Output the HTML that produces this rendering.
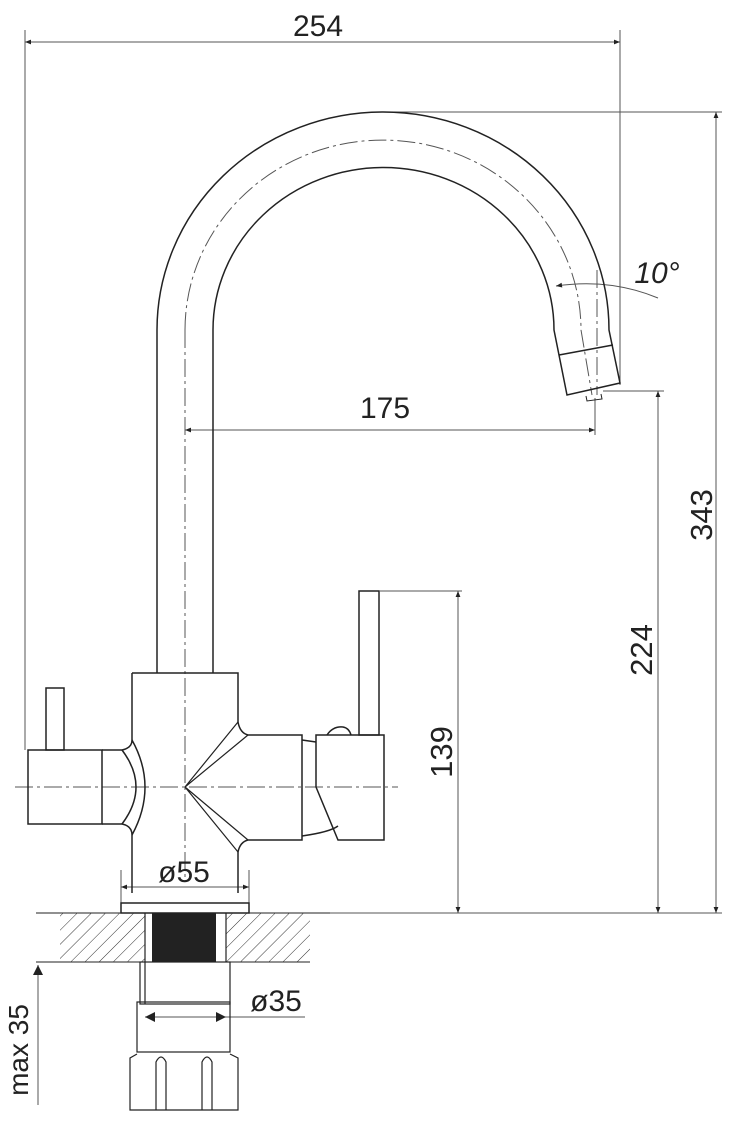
<!DOCTYPE html>
<html><head><meta charset="utf-8"><style>
html,body{margin:0;padding:0;background:#fff;}
svg{display:block;}
text{font-family:"Liberation Sans",sans-serif;fill:#222;}
</style></head><body>
<svg width="740" height="1123" viewBox="0 0 740 1123" xmlns="http://www.w3.org/2000/svg">
<defs>
<marker id="a" viewBox="0 0 10 10" refX="10" refY="5" markerWidth="14" markerHeight="6" markerUnits="userSpaceOnUse" orient="auto-start-reverse"><path d="M0,1 L10,5 L0,9 Z" fill="#222"/></marker>
<marker id="b" viewBox="0 0 10 10" refX="10" refY="5" markerWidth="22" markerHeight="10" markerUnits="userSpaceOnUse" orient="auto-start-reverse"><path d="M0,0 L10,5 L0,10 Z" fill="#222"/></marker>
<pattern id="h" width="10" height="10" patternUnits="userSpaceOnUse" patternTransform="rotate(45)"><line x1="0" y1="0" x2="0" y2="10" stroke="#333" stroke-width="1"/></pattern>
</defs>
<g fill="none" stroke="#555" stroke-width="1">
<line x1="25" y1="42" x2="620" y2="42" marker-start="url(#a)" marker-end="url(#a)"/>
<line x1="25" y1="30" x2="25" y2="750"/>
<line x1="620" y1="30" x2="620" y2="385"/>
<line x1="383" y1="112" x2="722" y2="112"/>
<line x1="716" y1="112" x2="716" y2="913" marker-start="url(#a)" marker-end="url(#a)"/>
<line x1="603" y1="391" x2="664" y2="391"/>
<line x1="658" y1="391" x2="658" y2="913" marker-start="url(#a)" marker-end="url(#a)"/>
<line x1="380" y1="591" x2="462" y2="591"/>
<line x1="458" y1="591" x2="458" y2="913" marker-start="url(#a)" marker-end="url(#a)"/>
<line x1="330" y1="913" x2="722" y2="913"/>
<line x1="185" y1="430" x2="595" y2="430" marker-start="url(#a)" marker-end="url(#a)"/>
<line x1="595" y1="398" x2="595" y2="435"/>
<line x1="121" y1="887" x2="249" y2="887" marker-start="url(#a)" marker-end="url(#a)"/>
<line x1="121" y1="870" x2="121" y2="903"/>
<line x1="249" y1="870" x2="249" y2="903"/>
<line x1="145" y1="1017" x2="226" y2="1017" marker-start="url(#b)" marker-end="url(#b)"/>
<line x1="226" y1="1017" x2="305" y2="1017"/>
<line x1="38" y1="1105" x2="38" y2="965" marker-end="url(#b)"/>
<line x1="36" y1="913" x2="330" y2="913" stroke="#222"/>
<line x1="36" y1="962" x2="310" y2="962" stroke="#222"/>
<path d="M556,286 Q610,278 658,298" marker-start="url(#a)"/>
<g stroke-dasharray="18,4,3,4">
<line x1="185" y1="330" x2="185" y2="880"/>
<line x1="15" y1="787" x2="398" y2="787"/>
<path d="M185,330 A198,190 0 0 1 581,330 L592,395"/>
<line x1="597" y1="270" x2="597" y2="395"/>
</g>
</g>
<g fill="none" stroke="#222" stroke-width="1.5">
<path d="M157,673 L157,330 A226,218 0 0 1 609,330 L620,383 L567,395 L554,330 A170,162 0 0 0 213,330 L213,673"/>
<line x1="559" y1="355" x2="613" y2="345"/>
<path d="M586,396 L587,401 L602,399 L601,394" stroke-width="1"/>
<path d="M132,673 L238,673 L238,722"/>
<path d="M132,673 L132,740"/>
<path d="M132,835 L132,893"/>
<path d="M238,852 L238,893"/>
<path d="M122,750 Q132,748 132,740 Q158,787 132,835 Q132,826 122,824"/>
<path d="M122,750 Q150,787 122,824"/>
<rect x="28" y="750" width="74" height="74"/>
<line x1="102" y1="750" x2="122" y2="750"/>
<line x1="102" y1="824" x2="122" y2="824"/>
<rect x="46" y="688" width="18" height="62"/>
<path d="M238,722 Q240,733 248,735 L302,735 L302,840 L248,840 Q240,842 238,852"/>
<path d="M185,787 L238,722 M185,787 L248,735 M185,787 L238,852 M185,787 L248,840" stroke-width="1.2"/>
<path d="M302,740 L316,742 M302,836 Q330,832 338,826"/>
<path d="M316,735 L384,735 L384,840 L338,840 L316,787 Z"/>
<path d="M327,735 Q333,726 343,727 Q349,728 351,735"/>
<rect x="359" y="591" width="20" height="144"/>
<rect x="121" y="903" width="128" height="10"/>
</g>
<rect x="60" y="913" width="85" height="49" fill="url(#h)"/>
<rect x="226" y="913" width="84" height="49" fill="url(#h)"/>
<rect x="152" y="913" width="64" height="49" fill="#222"/>
<g fill="none" stroke="#222" stroke-width="1.2">
<line x1="145" y1="913" x2="145" y2="962"/>
<line x1="226" y1="913" x2="226" y2="962"/>
<rect x="140" y="962" width="90" height="42"/>
<line x1="145" y1="962" x2="145" y2="1004"/>
<rect x="137" y="1002" width="93" height="50"/>
<path d="M137,1054 L130,1058 L130,1110 L238,1110 L238,1058 L230,1054"/>
<path d="M156,1110 L156,1062 Q161,1052 166,1062 L166,1110"/>
<path d="M202,1110 L202,1062 Q207,1052 212,1062 L212,1110"/>
</g>
<text x="318" y="36" font-size="30" text-anchor="middle">254</text>
<text x="385" y="418" font-size="30" text-anchor="middle">175</text>
<text x="184" y="882" font-size="30" text-anchor="middle">ø55</text>
<text x="276" y="1011" font-size="30" text-anchor="middle">ø35</text>
<text x="657" y="283" font-size="30" font-style="italic" text-anchor="middle">10°</text>
<text transform="translate(712,515) rotate(-90)" font-size="31" text-anchor="middle">343</text>
<text transform="translate(652,650) rotate(-90)" font-size="31" text-anchor="middle">224</text>
<text transform="translate(452,752) rotate(-90)" font-size="31" text-anchor="middle">139</text>
<text transform="translate(28,1050) rotate(-90)" font-size="28" text-anchor="middle">max 35</text>
</svg>
</body></html>
